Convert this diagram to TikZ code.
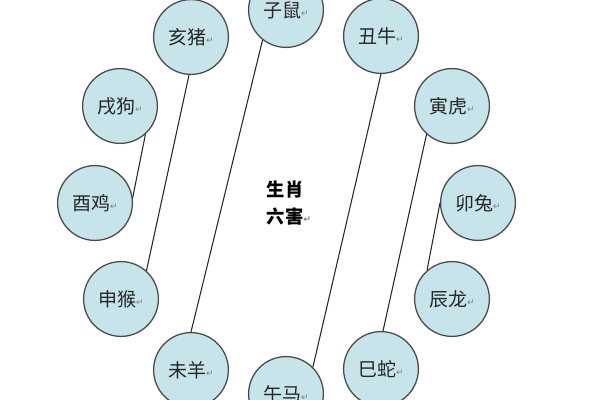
\documentclass[tikz,border=0pt]{standalone}
\usepackage{fontspec}
\usepackage{xcolor}
\usetikzlibrary{positioning}
\newfontfamily\cjk{Noto Sans CJK SC}
\newfontfamily\symfont{DejaVu Sans}
\definecolor{ringfill}{HTML}{C8E4EB}
\definecolor{ringdraw}{HTML}{4A4A4A}
\newcommand{\pmark}{{\symfont\fontsize{6.5}{6.5}\selectfont\color{gray}\raisebox{0.2ex}{↵}}}

\begin{document}
\begin{tikzpicture}[x=0.025cm,y=-0.025cm,
  animal/.style={circle,draw=ringdraw,fill=ringfill,line width=0.9pt,minimum size=1.87cm,inner sep=0pt,
    font=\cjk\fontsize{13.5}{15}\selectfont,text=black!85},
  pair/.style={black!85,line width=0.75pt}]

\useasboundingbox (0,0) rectangle (600,400);

% ring of the twelve
\node[animal] (zishu)   at (286,10)  {子鼠\pmark};
\node[animal] (chouniu) at (381,36)  {丑牛\pmark};
\node[animal] (yinhu)   at (452,106) {寅虎\pmark};
\node[animal] (maotu)   at (478,203) {卯兔\pmark};
\node[animal] (chenlong) at (452,299) {辰龙\pmark};
\node[animal] (sishe)   at (381,369) {巳蛇\pmark};
\node[animal] (wuma)    at (286,394) {午马\pmark};
\node[animal] (weiyang) at (191,370) {未羊\pmark};
\node[animal] (shenhou) at (121,299) {申猴\pmark};
\node[animal] (youji)   at (95,203)  {酉鸡\pmark};
\node[animal] (xugou)   at (120,106) {戌狗\pmark};
\node[animal] (haizhu)  at (191,37)  {亥猪\pmark};

\node[align=left,font=\cjk\bfseries\fontsize{13}{19}\selectfont] (title) at (289,203) {生肖\\六害\pmark};

% the six pairs
\draw[pair] (zishu.232) -- (weiyang.90);
\draw[pair] (chouniu.270) -- (wuma.45);
\draw[pair] (yinhu.228) -- (sishe.87);
\draw[pair] (maotu.180) -- (chenlong.131);
\draw[pair] (shenhou.48) -- (haizhu.267);
\draw[pair] (youji.8) -- (xugou.312);

\end{tikzpicture}
\end{document}
